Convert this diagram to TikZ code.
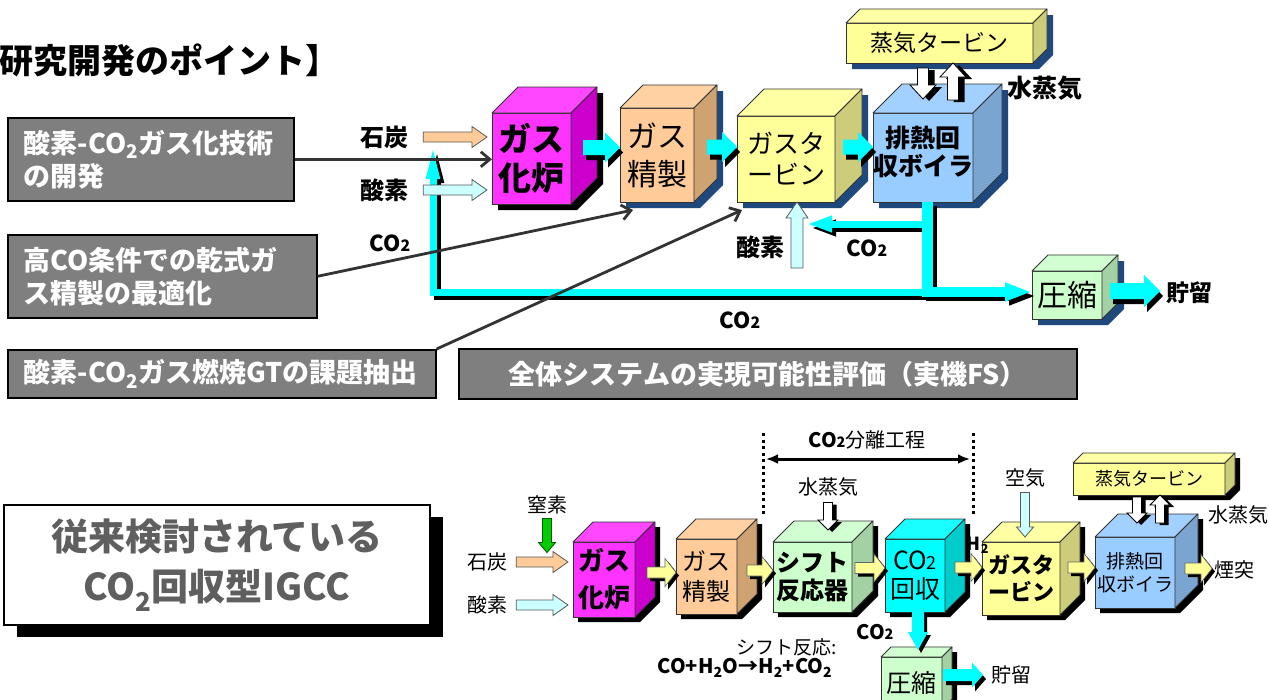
\documentclass[tikz,border=0pt]{standalone}
\usepackage{fontspec}
\setmainfont{Noto Sans CJK JP}
\usepackage{graphicx}
\usetikzlibrary{arrows.meta, positioning, calc, shadows}
\pgfdeclarelayer{bg}
\pgfsetlayers{bg,main}

\definecolor{magfront}{HTML}{FF33FF}
\definecolor{magside}{HTML}{CC00CC}
\definecolor{peachfront}{HTML}{FFCC99}
\definecolor{peachside}{HTML}{CFA272}
\definecolor{yelfront}{HTML}{FFFF99}
\definecolor{yelside}{HTML}{CCCC7A}
\definecolor{bluefront}{HTML}{99CCFF}
\definecolor{blueside}{HTML}{7BA5D1}
\definecolor{greenfront}{HTML}{CCFFCC}
\definecolor{greenside}{HTML}{A3D1A3}
\definecolor{cyanfront}{HTML}{00FFFF}
\definecolor{cyanside}{HTML}{00CCCC}
\definecolor{navyshadow}{HTML}{1F497D}
\definecolor{pipecyan}{HTML}{00FFFF}
\definecolor{feedpeach}{HTML}{FFCC99}
\definecolor{feedcyan}{HTML}{CCFFFF}
\definecolor{feedgreen}{HTML}{00CC00}
\definecolor{pointgrey}{HTML}{7F7F7F}
\definecolor{titlegrey}{HTML}{5F5F5F}

\newcommand{\fsz}[2]{\fontsize{#1}{#2}\selectfont}
\newcommand{\cotwo}{CO\scalebox{0.72}{2}}
\def\shoff{6}
\def\nonecol{none}

% block arrow parameters (half widths, tip length, shadow)
\tikzset{
  arrow shaft/.store in=\ashaft, arrow head/.store in=\ahead,
  arrow tip/.store in=\atip, arrow shadow/.store in=\ashcol,
  arrow dx/.store in=\adx, arrow dy/.store in=\ady,
  arrow shaft=5, arrow head=10, arrow tip=10, arrow shadow=none,
  arrow dx=3, arrow dy=3
}

% cube: front face node, then top and side faces, shadow on the bg layer
\newcommand{\plantcube}[8]{%
  \node[cubeface, fill=#4, #3] (#2) at (#1) {#8};
  \draw[cubeedge, fill=#4!90!white] (#2.north west) -- ++(#7,-#7)
    -- ([shift={(#7,-#7)}]#2.north east) -- (#2.north east) -- cycle;
  \draw[cubeedge, fill=#5] (#2.north east) -- ++(#7,-#7)
    -- ([shift={(#7,-#7)}]#2.south east) -- (#2.south east) -- cycle;
  \begin{pgfonlayer}{bg}
    \fill[#6] ([shift={(\shoff,\shoff)}]#2.south west)
      -- ([shift={(\shoff,\shoff)}]#2.south east)
      -- ([shift={(\shoff+#7,\shoff-#7)}]#2.south east)
      -- ([shift={(\shoff+#7,\shoff-#7)}]#2.north east)
      -- ([shift={(\shoff+#7,\shoff-#7)}]#2.north west)
      -- ([shift={(\shoff,\shoff)}]#2.north west) -- cycle;
  \end{pgfonlayer}}

% block arrow from one point to another
\newcommand{\arrowoutline}{(0,-\ashaft) -- (\alen-\atip,-\ashaft) -- (\alen-\atip,-\ahead)
  -- (\alen,0) -- (\alen-\atip,\ahead) -- (\alen-\atip,\ashaft) -- (0,\ashaft) -- cycle}
\newcommand{\flowarrow}[3]{%
  \path let \p1=(#2), \p2=(#3),
    \n1={atan2(\y2-\y1,\x2-\x1)}, \n2={veclen(\x2-\x1,\y2-\y1)} in
    \pgfextra{\xdef\aang{\n1}\xdef\alen{\n2}\xdef\ax{\x1}\xdef\ay{\y1}};
  \begin{scope}[#1]
    \ifx\ashcol\nonecol\else
      \fill[\ashcol, xshift=\adx, yshift=-\ady, shift={(\ax,\ay)}, rotate=\aang] \arrowoutline;
    \fi
  \end{scope}
  \path[#1, shift={(\ax,\ay)}, rotate=\aang] \arrowoutline;}

\begin{document}
\begin{tikzpicture}[
  x=1pt, y=-1pt,
  cubeface/.style={draw=black!80, line width=0.8, outer sep=0pt, inner sep=0pt,
    anchor=north west, align=center, text=black},
  cubeedge/.style={draw=black!80, line width=0.8, line join=round},
  pointbox/.style={draw=black, line width=1.6, fill=pointgrey, text=white,
    anchor=north west, inner xsep=16, inner ysep=0, align=left,
    font=\bfseries\fsz{27}{33}},
  titlebox/.style={draw=black, line width=1.5, fill=white, text=titlegrey,
    minimum width=426, minimum height=120, align=center,
    font=\bfseries\fsz{37}{50},
    drop shadow={shadow xshift=13pt, shadow yshift=-12pt, fill=black, opacity=1}},
  pointer/.style={draw=black!80, line width=2.8, -{Straight Barb[length=9pt,width=15pt]}},
  cyanflow/.style={fill=pipecyan, arrow shaft=7.5, arrow head=15, arrow tip=15,
    arrow shadow=black, arrow dx=3, arrow dy=5},
  cyansmall/.style={fill=pipecyan, arrow shaft=6, arrow head=12.5, arrow tip=11,
    arrow shadow=black, arrow dx=3, arrow dy=4},
  cyandown/.style={fill=pipecyan, arrow shaft=6, arrow head=10, arrow tip=18,
    arrow shadow=black, arrow dx=3, arrow dy=3},
  feedarrow/.style={draw=black!65, line width=0.8, arrow shaft=5, arrow head=10.5,
    arrow tip=15},
  feedsmall/.style={draw=black!65, line width=0.8, arrow shaft=4.5, arrow head=8.5,
    arrow tip=10},
  yelflow/.style={draw=black!60, line width=0.6, fill=yelfront, arrow shaft=5.5,
    arrow head=14, arrow tip=11, arrow shadow=black, arrow dx=3, arrow dy=3},
  steamflow/.style={draw=black, line width=0.8, fill=white, arrow shaft=5.5,
    arrow head=13, arrow tip=14, arrow shadow=black, arrow dx=6, arrow dy=2},
  steamsmall/.style={draw=black, line width=0.8, fill=white, arrow shaft=4.5,
    arrow head=10, arrow tip=10, arrow shadow=black, arrow dx=4, arrow dy=2},
  pipe/.style={draw=pipecyan},
  pipeshadow/.style={draw=black, transform canvas={xshift=4pt, yshift=-4pt}},
  sepline/.style={draw=black, line width=3, dash pattern=on 3pt off 3.5pt},
  span/.style={draw=black, line width=3,
    {Latex[length=12pt,width=10pt]}-{Latex[length=12pt,width=10pt]}},
  lbl/.style={inner sep=0pt, font=\bfseries\fsz{24}{28}},
  tag/.style={inner sep=0pt, font=\fsz{20}{24}}
]
\useasboundingbox (0,0) rectangle (1269,699);
\clip (0,0) rectangle (1269,699);

% ---------------- upper part: research points ----------------
\node[anchor=west, inner sep=0pt, font=\bfseries\fsz{34}{40}] (title) at (-1,60)
  {研究開発のポイント】};

\node[pointbox, text width=254, minimum height=83] (pt1) at (7,117)
  {酸素-CO\textsubscript{2}ガス化技術\\の開発};
\node[pointbox, text width=277, minimum height=83] (pt2) at (7,234)
  {高CO条件での乾式ガ\\ス精製の最適化};
\node[pointbox, text width=396, minimum height=48] (pt3) at (7,349)
  {酸素-CO\textsubscript{2}ガス燃焼GTの課題抽出};
\node[pointbox, text width=586, minimum height=50, align=center] (pt4) at (458,348)
  {全体システムの実現可能性評価（実機FS）};

% process cubes
\plantcube{492,113}{gasT}{minimum width=79, minimum height=91, font=\bfseries\fsz{33}{39}}
  {magfront}{magside}{black}{26}{ガス\\化炉}
\plantcube{620,108}{cleanT}{minimum width=74, minimum height=94, font=\fsz{30}{38}}
  {peachfront}{peachside}{navyshadow}{23}{ガス\\精製}
\plantcube{737,116}{gtT}{minimum width=98, minimum height=86, font=\fsz{26}{31}}
  {yelfront}{yelside}{navyshadow}{27}{ガスタ\\ービン}
\plantcube{873,113}{hrsgT}{minimum width=100, minimum height=89, font=\bfseries\fsz{25}{28}}
  {bluefront}{blueside}{navyshadow}{29}{排熱回\\収ボイラ\\[-14pt]\mbox{}}
\plantcube{846,23}{stT}{minimum width=187, minimum height=40, font=\fsz{23}{28}}
  {yelfront}{yelside}{navyshadow}{14}{蒸気タービン}
\plantcube{1032,271}{compT}{minimum width=70, minimum height=48, font=\fsz{30}{34}}
  {greenfront}{greenside}{navyshadow}{16}{圧縮}

% CO2 recycle pipes
\coordinate (lpTop) at ([xshift=4]hrsgT.south);
\coordinate (lpTurn) at ($(lpTop |- compT.west)+(0,-3)$);
\coordinate (lpEnd) at (433,143);
\coordinate (gtRet) at ($(gtT.south east)+(-28,22)$);

\draw[pipeshadow, line width=11] (lpTop) -- ($(lpTurn)+(0,5)$);
\draw[pipeshadow, line width=7, -{Triangle[width=12pt,length=36pt]}] (lpTurn) -| (lpEnd);
\draw[pipeshadow, line width=10, -{Triangle[width=17pt,length=27pt]}] (lpTurn) -- (lpTurn -| compT.west);
\draw[pipeshadow, line width=7, -{Triangle[width=15pt,length=25pt]}] (lpTop |- gtRet) -- (gtRet);

\draw[pipe, line width=11] (lpTop) -- ($(lpTurn)+(0,5)$);
\draw[pipe, line width=7, -{Triangle[width=12pt,length=36pt]}] (lpTurn) -| (lpEnd);
\draw[pipe, line width=10, -{Triangle[width=17pt,length=27pt]}] (lpTurn) -- (lpTurn -| compT.west);
\draw[pipe, line width=7, -{Triangle[width=15pt,length=25pt]}] (lpTop |- gtRet) -- (gtRet);

% labels
\node[lbl] (coalT) at (384,137) {石炭};
\node[lbl] (oxT) at (384,190) {酸素};
\node[lbl, font=\bfseries\fsz{22}{26}] (co2T1) at (390,243) {\cotwo};
\node[lbl] (ox2T) at (760,247) {酸素};
\node[lbl, font=\bfseries\fsz{22}{26}] (co2T2) at (867,248) {\cotwo};
\node[lbl, font=\bfseries\fsz{22}{26}] (co2T3) at (740,320) {\cotwo};
\node[lbl, font=\bfseries\fsz{25}{28}, anchor=west] (stmT) at (1007,88) {水蒸気};
\node[lbl, font=\bfseries\fsz{23}{26}, anchor=west] (storeT) at (1166,293) {貯留};

% flows between cubes
\coordinate (a1) at ($(gasT.east)+(12,-11)$);
\coordinate (a2) at ($(cleanT.east)+(13,-8)$);
\coordinate (a3) at ($(gtT.east)+(8,-12)$);
\coordinate (a4) at ($(compT.east)+(8,-4)$);
\flowarrow{cyanflow}{a1}{a1 -| cleanT.west}
\flowarrow{cyanflow}{a2}{a2 -| gtT.west}
\flowarrow{cyanflow}{a3}{a3 -| hrsgT.west}
\flowarrow{cyanflow, arrow shaft=8, arrow head=16, arrow tip=16}{a4}{[xshift=-6]a4 -| storeT.west}

% feeds
\flowarrow{feedarrow, fill=feedpeach}{[xshift=15]coalT.east}{[xshift=-5]gasT.west |- coalT.east}
\flowarrow{feedarrow, fill=feedcyan}{[xshift=15]oxT.east}{[xshift=-5]gasT.west |- oxT.east}
\flowarrow{feedarrow, fill=feedcyan, arrow shaft=6, arrow head=11, arrow tip=16}
  {$(gtT.south)+(11,66)$}{$(gtT.south)+(11,0)$}

% steam between turbine and boiler
\flowarrow{steamflow}{$(hrsgT.north |- stT.south)+(0,5)$}{$(hrsgT.north)+(0,-14)$}
\flowarrow{steamflow}{$(hrsgT.north)+(30,-13)$}{$(hrsgT.north |- stT.south)+(30,0)$}

% pointers from the research points
\draw[pointer] (pt1.east) -- (pt1.east -| gasT.west);
\draw[pointer] (pt2.east) -- ($(cleanT.south west)+(13,8)$);
\draw[pointer] (pt3.north east) -- ($(gtT.south west)+(5,8)$);

% ---------------- lower part: conventional IGCC ----------------
\node[titlebox] (convB) at (217,565) {従来検討されている\\CO\textsubscript{2}回収型IGCC};

\def\shoff{5}
\plantcube{573,542}{gasB}{minimum width=62, minimum height=75, font=\bfseries\fsz{26}{37}}
  {magfront}{magside}{black}{20}{ガス\\化炉}
\plantcube{676,539}{cleanB}{minimum width=61, minimum height=75, font=\fsz{24}{30}}
  {peachfront}{peachside}{black}{20}{ガス\\精製}
\plantcube{773,542}{shiftB}{minimum width=79, minimum height=70, font=\bfseries\fsz{24}{28}}
  {greenfront}{greenside}{black}{21}{シフト\\反応器}
\plantcube{885,539}{co2B}{minimum width=60, minimum height=73, font=\fsz{25}{29}}
  {cyanfront}{cyanside}{black}{20}{\cotwo\\回収}
\plantcube{982,542}{gtB}{minimum width=78, minimum height=73, font=\bfseries\fsz{22}{27}}
  {yelfront}{yelside}{black}{20}{ガスタ\\ービン}
\plantcube{1095,537}{hrsgB}{minimum width=80, minimum height=71, font=\fsz{19}{23}}
  {bluefront}{blueside}{black}{23}{排熱回\\収ボイラ}
\plantcube{1073,463}{stB}{minimum width=152, minimum height=32, font=\fsz{18}{22}}
  {yelfront}{yelside}{black}{10}{蒸気タービン}
\plantcube{881,657}{compB}{minimum width=61, minimum height=52, font=\fsz{25}{29}}
  {greenfront}{greenside}{black}{10}{圧縮}

% CO2 separation span
\coordinate (sepLt) at (763,433);
\coordinate (sepLb) at (763,517);
\coordinate (sepRt) at (973,433);
\coordinate (sepRb) at (973,517);
\draw[sepline] (sepLt) -- (sepLb);
\draw[sepline] (sepRt) -- (sepRb);
\draw[span] ($(sepLt)+(3,26)$) -- ($(sepRt)+(-3,26)$);
\node[tag] (sepB) at (867,440) {\textbf{\cotwo}分離工程};

% labels
\node[tag] (coalB) at (487,562) {石炭};
\node[tag] (oxB) at (487,605) {酸素};
\node[tag] (n2B) at (547,505) {窒素};
\node[tag] (stmB1) at (828,487) {水蒸気};
\node[tag] (airB) at (1025,478) {空気};
\node[tag] (stmB2) at (1238,515) {水蒸気};
\node[tag, anchor=west] (stackB) at (1214,570) {煙突};
\node[tag, anchor=west] (storeB) at (991,675) {貯留};
\node[lbl, font=\bfseries\fsz{20}{24}] (co2B1) at (875,632) {\cotwo};
\node[lbl, font=\bfseries\fsz{18}{20}] (h2B) at (978,545) {H\textsubscript{2}};
\node[tag, font=\fsz{19}{22}] (rxnB1) at (787,647) {シフト反応:};
\node[lbl, font=\bfseries\fsz{20}{24}] (rxnB2) at (745,668)
  {CO+H\textsubscript{2}O→H\textsubscript{2}+CO\textsubscript{2}};

% flows between cubes
\coordinate (b1) at ($(gasB.east)+(12,-7)$);
\coordinate (b2) at ($(cleanB.east)+(10,-6)$);
\coordinate (b3) at ($(shiftB.east)+(3,-9)$);
\coordinate (b4) at ($(co2B.east)+(10,-8)$);
\coordinate (b5) at ($(gtB.east)+(8,-11)$);
\coordinate (b6) at ($(hrsgB.east)+(10,-4)$);
\coordinate (b7) at ($(compB.east)+(1,-8)$);
\flowarrow{yelflow}{b1}{b1 -| cleanB.west}
\flowarrow{yelflow}{b2}{b2 -| shiftB.west}
\flowarrow{yelflow}{b3}{b3 -| co2B.west}
\flowarrow{yelflow}{b4}{b4 -| gtB.west}
\flowarrow{yelflow}{b5}{b5 -| hrsgB.west}
\flowarrow{yelflow}{b6}{[xshift=-2]b6 -| stackB.west}
\flowarrow{cyandown}{[xshift=3]co2B.south}{$(co2B.south |- compB.north)+(3,-7)$}
\flowarrow{cyansmall}{b7}{[xshift=-8]b7 -| storeB.west}

% feeds
\flowarrow{feedarrow, fill=feedpeach}{[xshift=9]coalB.east}{[xshift=-5]gasB.west |- coalB.east}
\flowarrow{feedarrow, fill=feedcyan}{[xshift=9]oxB.east}{[xshift=-5]gasB.west |- oxB.east}
\flowarrow{feedsmall, fill=feedgreen, draw=green!35!black}{[yshift=-4]n2B.south}{n2B.south |- coalB.north}
\flowarrow{steamsmall}{[yshift=-6]stmB1.south}{$(stmB1.south |- shiftB.north)+(0,-12)$}
\flowarrow{feedsmall, fill=feedcyan}{[yshift=-5]airB.south}{$(airB.south |- gtB.north)+(0,-5)$}
\flowarrow{steamsmall}{$(hrsgB.north |- stB.south)+(2,2)$}{$(hrsgB.north)+(2,-14)$}
\flowarrow{steamsmall}{$(hrsgB.north)+(25,-14)$}{$(hrsgB.north |- stB.south)+(25,0)$}

\end{tikzpicture}
\end{document}
